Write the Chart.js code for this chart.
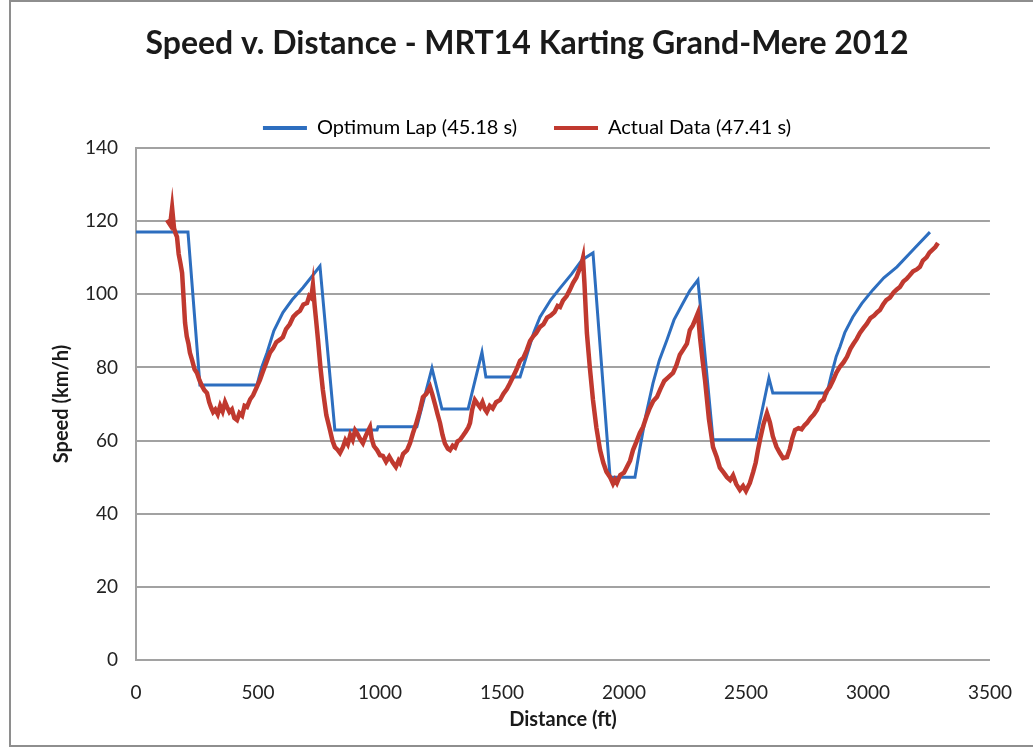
<!DOCTYPE html>
<html>
<head>
<meta charset="utf-8">
<title>Speed v. Distance</title>
<script src="https://cdn.jsdelivr.net/npm/chart.js@4.4.1/dist/chart.umd.min.js"></script>
<style>
  html, body { margin: 0; padding: 0; background: #fff; overflow: hidden; }
  #wrap { position: relative; width: 1033px; height: 748px; }
  #frame {
    position: absolute; left: 9px; top: 0px; width: 1060px; height: 743px;
    border: 2px solid #8e8e8e; pointer-events: none;
  }
</style>
</head>
<body>
<div id="wrap">
  <canvas id="speedChart" width="1033" height="748"></canvas>
  <div id="frame"></div>
</div>
<script>
// series labels
const seriesNames = ['Optimum Lap (45.18 s)', 'Actual Data (47.41 s)'];

// optimum lap: distance (ft) / speed (km/h)
const optDist = [0, 213, 262, 496, 515, 537, 565, 602, 640, 684, 720, 754, 815, 988, 992, 1151,
  1213, 1254, 1361, 1418, 1434, 1574, 1600, 1630, 1656, 1700, 1738, 1785, 1828, 1873, 1943, 2045,
  2066, 2090, 2119, 2145, 2176, 2205, 2242, 2270, 2303, 2365, 2541, 2594, 2610, 2832, 2850, 2870,
  2885, 2905, 2938, 2975, 3020, 3065, 3119, 3190, 3254];
const optSpeed = [117, 117, 75.2, 75.2, 80, 84, 90, 95, 98.5, 101.8, 104.8, 107.7, 62.9, 62.9, 63.8, 63.8,
  79.8, 68.6, 68.6, 84.2, 77.4, 77.4, 83, 89.5, 93.8, 98.5, 101.7, 105.5, 109.4, 111.3, 50, 50,
  58.2, 67, 75.7, 82, 87.5, 93, 97.6, 101, 103.9, 60.2, 60.2, 77.1, 73, 73, 78, 83,
  85.6, 89.5, 93.8, 97.5, 101.2, 104.5, 107.5, 112.5, 117];

// actual logged data: distance (ft) / speed (km/h)
const actDist = [127, 140, 148, 156, 163, 168, 175, 182, 189, 195, 201, 208, 215, 221, 230, 240, 250,
  260, 270, 280, 291, 300, 308, 316, 325, 335, 345, 355, 365, 373, 383, 393, 403, 414, 424,
  435, 445, 455, 468, 480, 494, 508, 520, 535, 549, 562, 575, 590, 602, 615, 630, 645, 660,
  672, 686, 701, 710, 718, 725, 732, 738, 746, 756, 766, 780, 795, 805, 815, 826, 836, 848,
  858, 868, 878, 888, 898, 906, 918, 930, 940, 950, 959, 966, 975, 988, 1000, 1012, 1025,
  1038, 1053, 1065, 1076, 1082, 1095, 1111, 1123, 1135, 1148, 1164, 1176, 1190, 1205, 1215,
  1226, 1236, 1246, 1256, 1266, 1278, 1287, 1298, 1308, 1318, 1328, 1340, 1352, 1362, 1369,
  1378, 1389, 1398, 1410, 1420, 1430, 1438, 1450, 1462, 1476, 1492, 1506, 1520, 1532, 1545,
  1560, 1574, 1588, 1602, 1615, 1628, 1640, 1656, 1670, 1685, 1700, 1715, 1728, 1738, 1750,
  1765, 1778, 1791, 1805, 1818, 1826, 1832, 1838, 1843, 1848, 1860, 1873, 1887, 1902, 1915,
  1928, 1943, 1955, 1963, 1971, 1985, 2000, 2012, 2025, 2037, 2050, 2065, 2078, 2092, 2105,
  2120, 2135, 2150, 2165, 2180, 2201, 2215, 2229, 2242, 2258, 2270, 2282, 2292, 2303, 2312,
  2322, 2332, 2348, 2365, 2380, 2393, 2408, 2422, 2435, 2447, 2460, 2475, 2488, 2500, 2516,
  2530, 2540, 2549, 2560, 2572, 2586, 2598, 2610, 2625, 2639, 2652, 2668, 2680, 2690, 2701,
  2715, 2728, 2740, 2750, 2765, 2778, 2791, 2805, 2818, 2830, 2844, 2858, 2870, 2885, 2900,
  2914, 2928, 2940, 2954, 2967, 2982, 2995, 3010, 3025, 3038, 3049, 3062, 3075, 3090, 3105,
  3118, 3131, 3145, 3158, 3170, 3185, 3200, 3213, 3225, 3240, 3252, 3265, 3276, 3287];
const actSpeed = [120.3, 119, 123.6, 118, 116.5, 115.7, 111, 108.5, 105.8, 99, 92.2, 88.5, 86.5, 84, 82, 79.5, 78.5,
  76.5, 75, 73.8, 73, 70.5, 69, 67.8, 68.5, 67.2, 69.5, 68, 70.5, 69.2, 67.8, 68.5, 66.2, 65.6, 67.5,
  66.8, 69.5, 69.2, 71.3, 72.4, 74.5, 76.6, 78.8, 81.5, 84, 85.2, 86.9, 87.6, 88.3, 90.5, 91.8, 93.9, 94.9,
  95.5, 97.2, 97.6, 99.5, 99, 102.5, 97, 93, 87.5, 80, 73.8, 67, 62.9, 60, 58.2, 57.5, 56.6, 58.2,
  60.1, 59, 61.5, 60.2, 62.8, 62, 60.5, 59.3, 61, 62.5, 63.7, 60.5, 58.5, 57.4, 56, 55.8, 54.2,
  55.6, 53.9, 52.8, 54.5, 53.9, 56.4, 57.4, 59.3, 62, 64.6, 68.4, 71.9, 72.8, 74.7, 72.5,
  69.8, 67.2, 64.8, 61.6, 59.2, 57.8, 57.4, 58.6, 58.1, 59.8, 60.2, 61.3, 62.5, 63.6, 64.8,
  68.5, 71.1, 70.2, 69.1, 70.5, 68.6, 67.8, 69.5, 68.8, 70.5, 71.1, 72.8, 74.1, 75.6, 77.4,
  79.5, 81.8, 82.7, 84.8, 87.2, 88.5, 89.4, 91.1, 91.8, 93.6, 94.2, 95.1, 96.8, 96.5, 98.3,
  99.5, 101.2, 103.1, 104.6, 106.9, 108.2, 109.9, 103, 96, 89.4, 80, 71.1, 63.5, 57.4, 54,
  51.5, 50, 48.2, 49.3, 48.4, 50.6, 51.2, 52.8, 54.5, 57.4, 59.5, 62.1, 63.7, 66.5, 68.8,
  70.8, 71.9, 74.2, 76.3, 77.2, 78.5, 80.6, 83.5, 84.8, 86.5, 90.2, 91.5, 93.1, 94.9, 88,
  82, 76.6, 66, 58.2, 55.5, 52.6, 51.3, 50, 49.2, 50.5, 48.1, 46.5, 47.6, 46.2, 48.4,
  51.5, 54, 57.4, 61, 64.5, 67.5, 65, 61.2, 58.3, 56.6, 55.2, 55.5, 57.8, 60.6, 62.9,
  63.4, 63.1, 64.2, 64.8, 66.2, 67.1, 68.4, 70.5, 71.2, 73.4, 74.7, 76.6, 78.5, 80.2, 81.4,
  82.9, 85.1, 86.4, 87.8, 89.4, 90.8, 91.9, 93.5, 94.2, 95.1, 95.7, 97.2, 98.4, 99.1, 100.5,
  101.3, 102, 103.5, 104.2, 105.1, 106.3, 106.8, 107.5, 109.2, 110.1, 111.4, 112.2, 112.9, 114];

const xTicks = [0, 500, 1000, 1500, 2000, 2500, 3000, 3500];
const yTicks = [0, 20, 40, 60, 80, 100, 120, 140];

const BLUE = '#2d6ebf';
const RED = '#c0392f';
const GRID = '#a2a2a2';
const FONT = 'Lato, "Open Sans", "Liberation Sans", sans-serif';

function toPoints(xs, ys) {
  return xs.map((x, i) => ({ x: x, y: ys[i] }));
}

new Chart(document.getElementById('speedChart'), {
  type: 'scatter',
  data: {
    datasets: [
      {
        label: seriesNames[0],
        data: toPoints(optDist, optSpeed),
        showLine: true,
        borderColor: BLUE,
        backgroundColor: BLUE,
        borderWidth: 3,
        pointRadius: 0,
        tension: 0,
        order: 1,
      },
      {
        label: seriesNames[1],
        data: toPoints(actDist, actSpeed),
        showLine: true,
        borderColor: RED,
        backgroundColor: RED,
        borderWidth: 4.5,
        pointRadius: 0,
        tension: 0,
        order: 0,
      },
    ],
  },
  options: {
    responsive: false,
    animation: false,
    devicePixelRatio: 1,
    layout: { padding: { left: 64, right: 43, top: 0, bottom: 0 } },
    plugins: {
      tooltip: { enabled: false },
      title: {
        display: true,
        text: 'Speed v. Distance - MRT14 Karting Grand-Mere 2012',
        color: '#1a1a1a',
        font: { family: FONT, size: 32, weight: 'bold' },
        padding: { top: 24, bottom: 18.6 },
      },
      legend: {
        display: true,
        position: 'top',
        labels: {
          color: '#222',
          font: { family: FONT, size: 20 },
          boxWidth: 44,
          boxHeight: 4,
          padding: 37,
          sort: (a, b) => a.datasetIndex - b.datasetIndex,
          generateLabels: (chart) => chart.data.datasets.map((ds, i) => ({
            text: ds.label,
            fillStyle: ds.borderColor,
            strokeStyle: ds.borderColor,
            lineWidth: 0,
            datasetIndex: i,
            hidden: false,
          })),
        },
      },
    },
    scales: {
      x: {
        type: 'linear',
        min: 0,
        max: 3500,
        afterBuildTicks: (axis) => { axis.ticks = xTicks.map(v => ({ value: v })); },
        afterFit: (axis) => { axis.height = 88; },
        grid: { display: false, drawTicks: false },
        border: { display: true, color: GRID, width: 2 },
        ticks: {
          color: '#222', font: { family: FONT, size: 19 }, padding: 21, maxRotation: 0,
          callback: (v) => String(v),
        },
        title: {
          display: true,
          text: 'Distance (ft)',
          color: '#1a1a1a',
          font: { family: FONT, size: 20, weight: 'bold' },
          padding: { top: 0, bottom: 16 },
        },
      },
      y: {
        type: 'linear',
        min: 0,
        max: 140,
        afterBuildTicks: (axis) => { axis.ticks = yTicks.map(v => ({ value: v })); },
        afterFit: (axis) => { axis.width = 72; },
        grid: { color: GRID, lineWidth: 2, drawTicks: false },
        border: { display: true, color: GRID, width: 2 },
        ticks: {
          color: '#222', font: { family: FONT, size: 19 }, padding: 18,
          callback: (v) => String(v),
        },
        title: {
          display: true,
          text: 'Speed (km/h)',
          color: '#1a1a1a',
          font: { family: FONT, size: 20, weight: 'bold' },
          padding: { top: -14, bottom: 0 },
        },
      },
    },
  },
});
</script>
</body>
</html>
